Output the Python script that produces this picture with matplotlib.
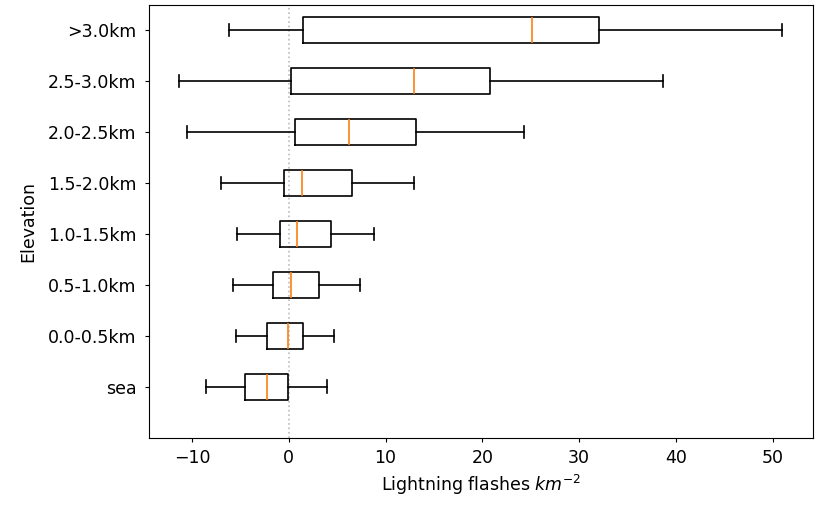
import numpy as np
import matplotlib
matplotlib.use("Agg")
import matplotlib.pyplot as plt

# elevation bands, bottom to top
elevations = ["sea", "0.0-0.5km", "0.5-1.0km", "1.0-1.5km",
              "1.5-2.0km", "2.0-2.5km", "2.5-3.0km", ">3.0km"]

# box statistics per band (flashes per km^2)
whisker_low = [-8.5, -5.5, -5.8, -5.4, -7.0, -10.5, -11.3, -6.2]
q1 = [-4.5, -2.3, -1.65, -0.9, -0.5, 0.6, 0.25, 1.45]
median = [-2.2, -0.13, 0.28, 0.8, 1.4, 6.2, 12.9, 25.1]
q3 = [-0.03, 1.5, 3.1, 4.4, 6.5, 13.1, 20.8, 32.0]
whisker_high = [3.95, 4.7, 7.35, 8.8, 12.9, 24.3, 38.7, 51.0]

plt.rcParams["font.size"] = 12.5

stats = []
for i in range(len(elevations)):
    stats.append({"label": elevations[i], "whislo": whisker_low[i], "q1": q1[i],
                  "med": median[i], "q3": q3[i], "whishi": whisker_high[i],
                  "fliers": []})

fig = plt.figure(figsize=(8.2, 5.05), dpi=100)
ax = fig.add_axes([0.182, 0.133, 0.809, 0.858])

ax.axvline(0, color="#bbbbbb", linestyle=":", linewidth=1.2, zorder=0)
ax.bxp(stats, orientation="horizontal", widths=0.5,
       boxprops={"linewidth": 1.2}, whiskerprops={"linewidth": 1.2},
       capprops={"linewidth": 1.2}, medianprops={"linewidth": 1.2})

ax.set_ylim(0.0, 8.5)
ax.tick_params(axis="y", length=3, pad=6)
ax.tick_params(axis="x", length=3, pad=5)
ax.set_xlabel("Lightning flashes $km^{-2}$", labelpad=4)
ax.set_ylabel("Elevation", labelpad=8)

fig.savefig("out.png", dpi=100)
